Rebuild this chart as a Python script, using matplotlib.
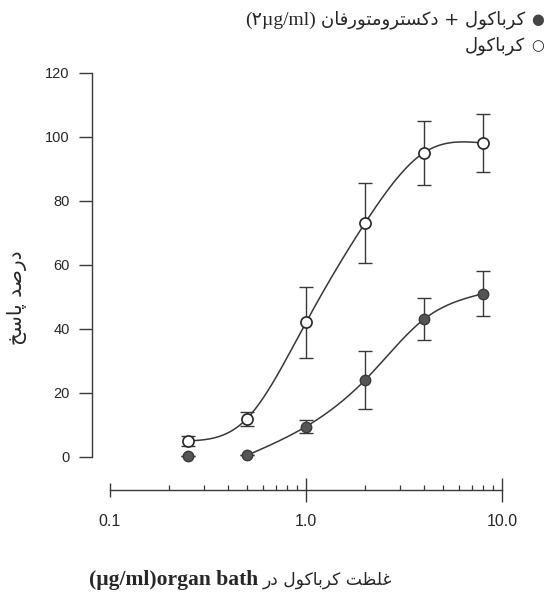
import numpy as np
import matplotlib
matplotlib.use("Agg")
import matplotlib.pyplot as plt
from matplotlib.ticker import LogLocator, NullFormatter, FixedLocator

# ---------------- data ----------------
conc = [0.25, 0.5, 1.0, 2.0, 4.0, 8.0]
carb_mean = [5.0, 12.0, 42.0, 73.0, 95.0, 98.0]
carb_err = [1.5, 2.2, 11.0, 12.5, 10.0, 9.0]
dex_mean = [0.3, 0.5, 9.5, 24.0, 43.0, 51.0]
dex_err = [0.0, 0.0, 2.0, 9.0, 6.5, 7.0]
dex_curve_start = 1  # fitted curve for the dextromethorphan series starts at 0.5
xticks = [0.1, 1.0, 10.0]
xticklabels = ["0.1", "1.0", "10.0"]
yticks = [0, 20, 40, 60, 80, 100, 120]

# ---------------- persian shaping (presentation forms, visual order) ----------------
FORMS = {
    'ا': ('\uFE8D', '\uFE8E', None, None),
    'ب': ('\uFE8F', '\uFE90', '\uFE91', '\uFE92'),
    'پ': ('\uFB56', '\uFB57', '\uFB58', '\uFB59'),
    'ت': ('\uFE95', '\uFE96', '\uFE97', '\uFE98'),
    'خ': ('\uFEA5', '\uFEA6', '\uFEA7', '\uFEA8'),
    'د': ('\uFEA9', '\uFEAA', None, None),
    'ر': ('\uFEAD', '\uFEAE', None, None),
    'س': ('\uFEB1', '\uFEB2', '\uFEB3', '\uFEB4'),
    'ص': ('\uFEB9', '\uFEBA', '\uFEBB', '\uFEBC'),
    'ظ': ('\uFEC5', '\uFEC6', '\uFEC7', '\uFEC8'),
    'غ': ('\uFECD', '\uFECE', '\uFECF', '\uFED0'),
    'ف': ('\uFED1', '\uFED2', '\uFED3', '\uFED4'),
    'ک': ('\uFB8E', '\uFB8F', '\uFB90', '\uFB91'),
    'ل': ('\uFEDD', '\uFEDE', '\uFEDF', '\uFEE0'),
    'م': ('\uFEE1', '\uFEE2', '\uFEE3', '\uFEE4'),
    'ن': ('\uFEE5', '\uFEE6', '\uFEE7', '\uFEE8'),
    'و': ('\uFEED', '\uFEEE', None, None),
}


def fa(s):
    out = []
    for i, c in enumerate(s):
        f = FORMS.get(c)
        if f is None:
            out.append(c)
            continue
        prev = s[i - 1] if i > 0 else None
        nxt = s[i + 1] if i + 1 < len(s) else None
        jp = prev in FORMS and FORMS[prev][2] is not None
        jn = nxt in FORMS and f[2] is not None
        if jp and jn:
            g = f[3]
        elif jp:
            g = f[1]
        elif jn:
            g = f[2]
        else:
            g = f[0]
        out.append(g)
    return ''.join(reversed(out))


def natural_spline(x, y, xs):
    x = np.asarray(x, float)
    y = np.asarray(y, float)
    n = len(x)
    h = np.diff(x)
    A = np.zeros((n, n))
    r = np.zeros(n)
    A[0, 0] = 1
    A[-1, -1] = 1
    for i in range(1, n - 1):
        A[i, i - 1] = h[i - 1]
        A[i, i] = 2 * (h[i - 1] + h[i])
        A[i, i + 1] = h[i]
        r[i] = 6 * ((y[i + 1] - y[i]) / h[i] - (y[i] - y[i - 1]) / h[i - 1])
    M = np.linalg.solve(A, r)
    idx = np.clip(np.searchsorted(x, xs) - 1, 0, n - 2)
    x0, x1 = x[idx], x[idx + 1]
    hh = x1 - x0
    t0 = x1 - xs
    t1 = xs - x0
    return (M[idx] * t0 ** 3 / (6 * hh) + M[idx + 1] * t1 ** 3 / (6 * hh)
            + (y[idx] / hh - M[idx] * hh / 6) * t0
            + (y[idx + 1] / hh - M[idx + 1] * hh / 6) * t1)


INK = '#262626'
LINE = '#383838'

fig = plt.figure(figsize=(5.46, 5.96), dpi=100)
W, H = 546, 596
ax = fig.add_axes([110 / W, (H - 457) / H, 392 / W, (457 - 72.5) / H])
ax.set_xscale('log')
ax.set_xlim(0.1, 10)
ax.set_ylim(0, 120)
ax.patch.set_visible(False)

for s in ('top', 'right'):
    ax.spines[s].set_visible(False)
ax.spines['left'].set_position(('outward', 18 * 0.72))
ax.spines['bottom'].set_position(('outward', 33 * 0.72))
ax.spines['left'].set_bounds(0, 120)
ax.spines['bottom'].set_bounds(0.1, 10)
for s in ('left', 'bottom'):
    ax.spines[s].set_color(LINE)
    ax.spines[s].set_linewidth(1.0)

ax.yaxis.set_major_locator(FixedLocator(yticks))
ax.set_yticklabels([str(v) for v in yticks])
ax.tick_params(axis='y', direction='out', length=9.5, width=1.0, pad=6.5,
               colors=LINE, labelcolor=INK, labelsize=10.5)
ax.xaxis.set_major_locator(FixedLocator(xticks))
ax.set_xticklabels(xticklabels)
ax.xaxis.set_minor_locator(LogLocator(base=10, subs=np.arange(2, 10)))
ax.xaxis.set_minor_formatter(NullFormatter())
ax.tick_params(axis='x', which='major', direction='inout', length=17, width=1.0,
               pad=9, colors=LINE, labelcolor=INK, labelsize=11.5)
ax.tick_params(axis='x', which='minor', direction='in', length=3.5, width=0.9,
               colors=LINE)
for lab in ax.get_xticklabels() + ax.get_yticklabels():
    lab.set_fontfamily('Liberation Sans')
ax.xaxis.get_major_ticks()[0].tick1line.set_markersize(10)

# fitted curves
lx = np.log10(conc)
xs = np.linspace(lx[0], lx[-1], 300)
ax.plot(10 ** xs, natural_spline(lx, carb_mean, xs), color=LINE, lw=1.1, zorder=2)
lx2 = lx[dex_curve_start:]
xs2 = np.linspace(lx2[0] - 0.03, lx2[-1], 300)
ax.plot(10 ** xs2, natural_spline(lx2, dex_mean[dex_curve_start:], xs2),
        color=LINE, lw=1.1, zorder=2)

# error bars
ax.errorbar(conc, carb_mean, yerr=carb_err, fmt='none', ecolor=LINE,
            elinewidth=1.0, capsize=4.7, capthick=1.0, clip_on=False, zorder=3)
ax.errorbar(conc, dex_mean, yerr=dex_err, fmt='none', ecolor=LINE,
            elinewidth=1.0, capsize=4.7, capthick=1.0, clip_on=False, zorder=3)

# markers
ax.plot(conc, carb_mean, 'o', ms=8, mfc='white', mec=INK, mew=1.2,
        clip_on=False, zorder=4)
ax.plot(conc, dex_mean, 'o', ms=7.5, mfc='#555555', mec='#3a3a3a', mew=1.0,
        clip_on=False, zorder=4)

PF = ['DejaVu Sans']
renderer = fig.canvas.get_renderer()


def left_edge(t):
    bb = t.get_window_extent(renderer)
    return bb.x0 / W


# legend (top right, RTL with the symbol on the right)
fig.text(544 / W, 1 - 20 / H, '\u25CF', ha='right', va='center', fontsize=10.5,
         color='#444444', family=PF)
fig.text(544 / W, 1 - 46 / H, '\u25CB', ha='right', va='center', fontsize=10.5,
         color=INK, family=PF)
t1 = fig.text(525 / W, 1 - 20 / H, fa('کرباکول + دکسترومتورفان'),
              ha='right', va='center', fontsize=13, color=INK, family=PF)
fig.text(left_edge(t1) - 5 / W, 1 - 20 / H, '(\u06F2\u00b5g/ml)',
         ha='right', va='center', fontsize=14, color=INK,
         family=['Liberation Serif', 'DejaVu Sans'])
fig.text(525 / W, 1 - 46 / H, fa('کرباکول'),
         ha='right', va='center', fontsize=13, color=INK, family=PF)

# y label
fig.text(17 / W, 1 - 298 / H, fa('درصد پاسخ'), rotation=90, ha='center',
         va='center', fontsize=14.5, color=INK, family=PF)

# x label: latin part (bold serif) + persian part
fig.text(258 / W, 1 - 580 / H, '(\u00b5g/ml)organ bath', ha='right', va='center',
         fontsize=15.5, fontweight='bold', color=INK, family=['Liberation Serif'])
fig.text(263 / W, 1 - 580 / H, fa('غلظت کرباکول در'), ha='left', va='center',
         fontsize=12.3, color=INK, family=PF)

fig.savefig('out.png', dpi=100)
